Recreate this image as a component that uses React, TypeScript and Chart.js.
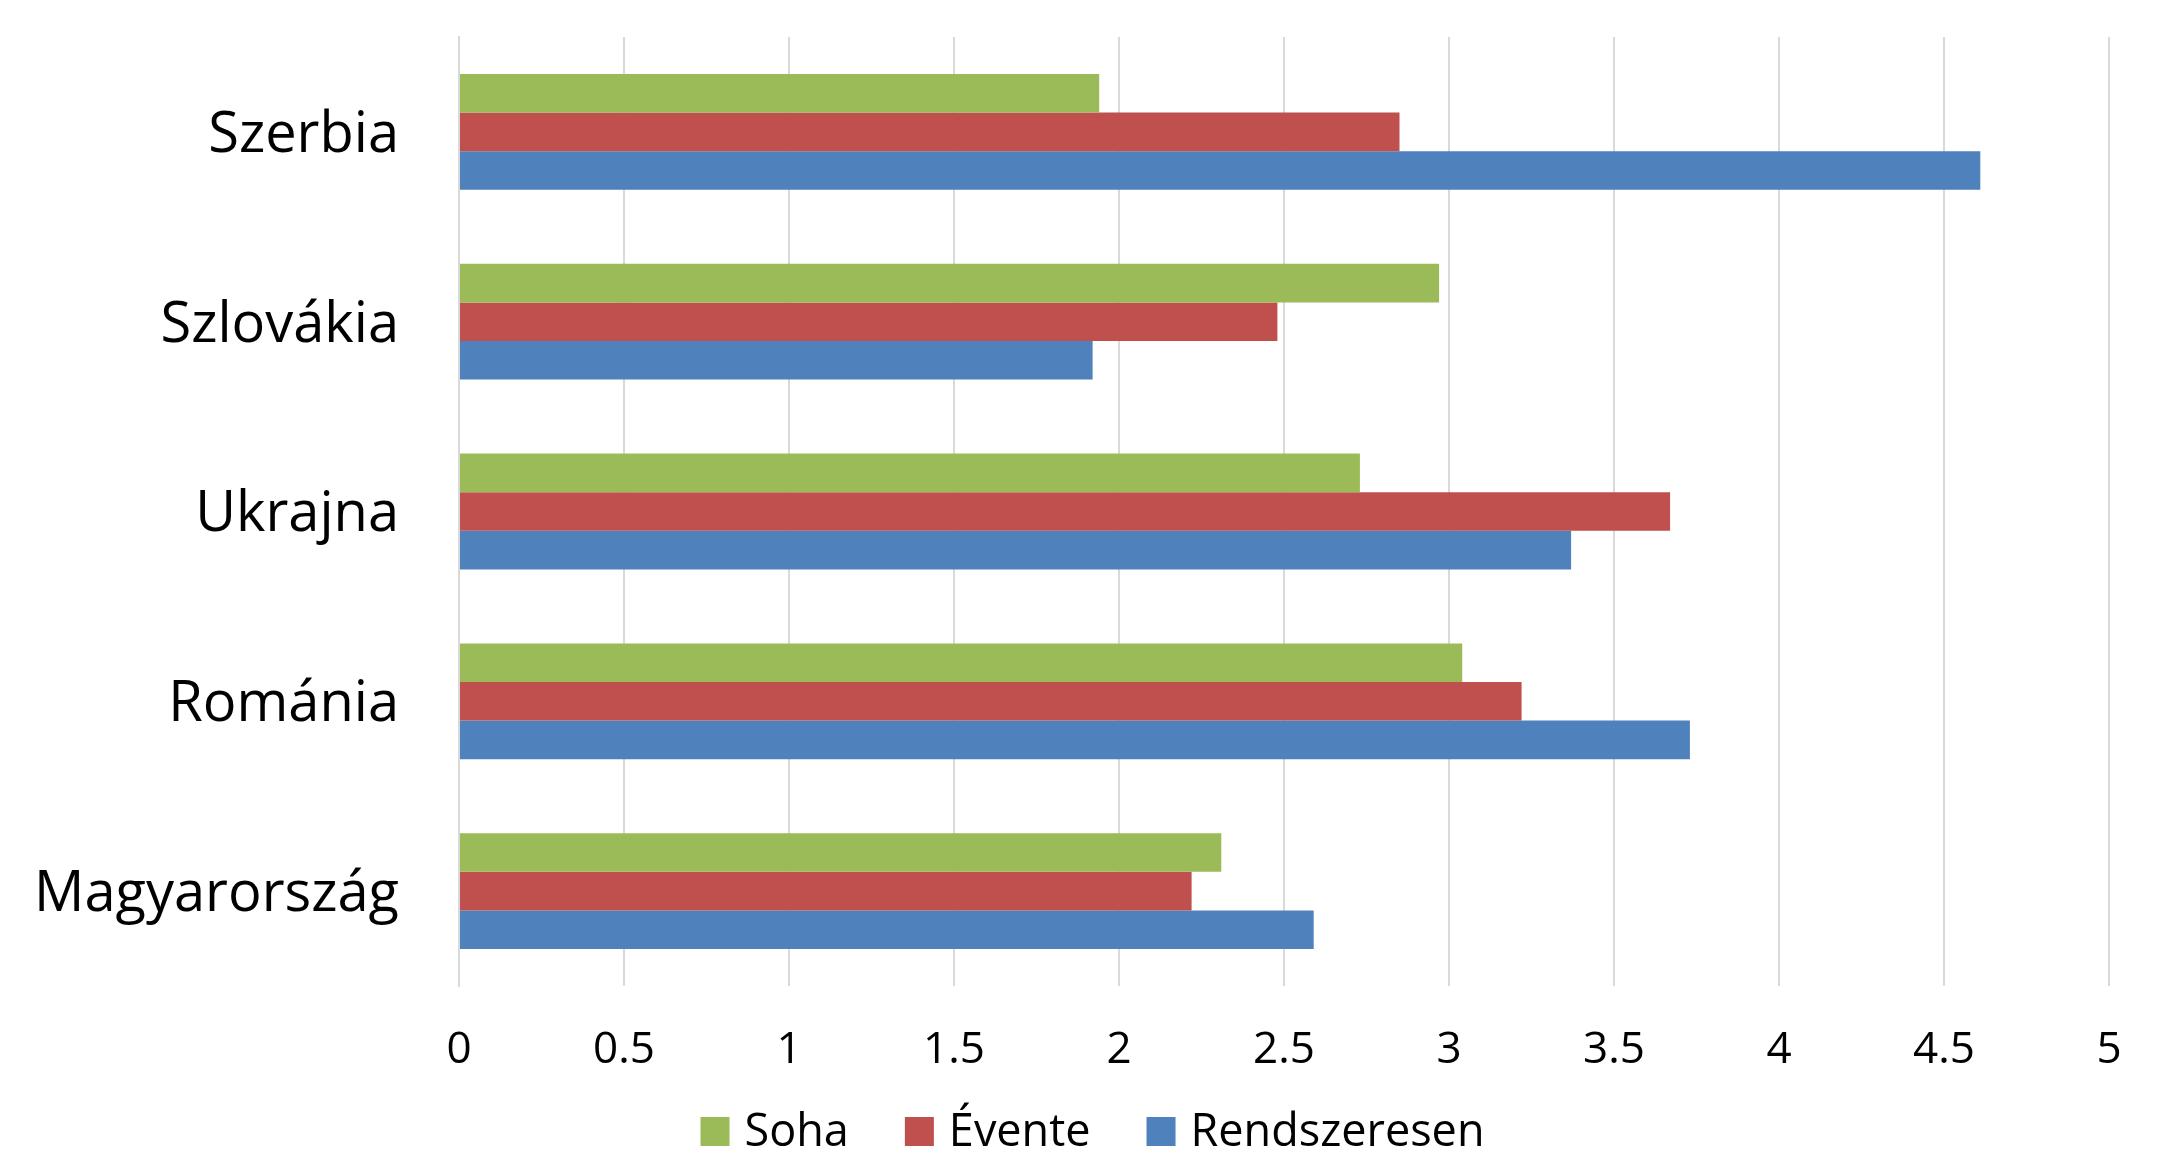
import React, { useEffect, useRef } from "react";
import { Chart, registerables } from "chart.js";

Chart.register(...registerables);

const categories = ["Szerbia", "Szlovákia", "Ukrajna", "Románia", "Magyarország"];
const seriesNames = ["Soha", "Évente", "Rendszeresen"];
const soha = [1.94, 2.97, 2.73, 3.04, 2.31];
const evente = [2.85, 2.48, 3.67, 3.22, 2.22];
const rendszeresen = [4.61, 1.92, 3.37, 3.73, 2.59];
const seriesColors = ["#9BBB59", "#C0504D", "#4F81BD"];
const xTicks = [0, 0.5, 1, 1.5, 2, 2.5, 3, 3.5, 4, 4.5, 5];

const legendFont = "45px 'Open Sans'";

const bottomLegend = {
  id: "bottomLegend",
  afterDraw(chart: any) {
    const ctx = chart.ctx;
    const box = 29;
    const gapText = 15;
    const gapItem = 56;
    const baseline = 1146;
    ctx.save();
    ctx.font = legendFont;
    const items = chart.data.datasets.map((ds: any) => ({
      label: ds.label,
      color: ds.backgroundColor,
      w: ctx.measureText(ds.label).width,
    }));
    const total =
      items.reduce((s: number, it: any) => s + box + gapText + it.w, 0) + gapItem * (items.length - 1);
    let x = chart.width / 2 - total / 2 + 8;
    for (const it of items) {
      ctx.fillStyle = it.color;
      ctx.fillRect(x, baseline - box, box, box);
      x += box + gapText;
      ctx.fillStyle = "#000";
      ctx.textBaseline = "alphabetic";
      ctx.textAlign = "left";
      ctx.fillText(it.label, x, baseline);
      x += it.w + gapItem;
    }
    ctx.restore();
  },
};

export default function App() {
  const ref = useRef<HTMLCanvasElement | null>(null);
  useEffect(() => {
    if (!ref.current) return;
    const values = [soha, evente, rendszeresen];
    const chart = new Chart(ref.current, {
      type: "bar",
      data: {
        labels: categories,
        datasets: seriesNames.map((name, i) => ({
          label: name,
          data: values[i],
          backgroundColor: seriesColors[i],
          borderWidth: 0,
          categoryPercentage: 0.61,
          barPercentage: 1.0,
        })),
      },
      plugins: [bottomLegend],
      options: {
        indexAxis: "y",
        animation: false,
        responsive: true,
        maintainAspectRatio: false,
        layout: { padding: { top: 37, right: 60, left: 0, bottom: 0 } },
        plugins: {
          tooltip: { enabled: false },
          legend: { display: false },
        },
        scales: {
          x: {
            min: 0,
            max: 5,
            afterBuildTicks: (scale: any) => {
              scale.ticks = xTicks.map((v) => ({ value: v }));
            },
            afterFit: (scale: any) => {
              scale.height = 168;
            },
            grid: { color: "#d9d9d9", lineWidth: 2, drawTicks: false },
            border: { display: false },
            ticks: {
              font: { family: "Open Sans", size: 44 },
              color: "#000",
              padding: 38,
              callback: (v: any) => String(v),
            },
          },
          y: {
            afterFit: (scale: any) => {
              scale.width = 459;
              scale.paddingTop = 0;
              scale.paddingBottom = 0;
            },
            grid: { display: false },
            border: { display: true, color: "#d9d9d9", width: 2 },
            ticks: {
              font: { family: "Open Sans", size: 56 },
              color: "#000",
              padding: 52,
              labelOffset: 4,
            },
          },
        },
      },
    });
    return () => chart.destroy();
  }, []);
  return (
    <div style={{ position: "fixed", left: 0, top: 0, width: 2169, height: 1154, background: "#fff" }}>
      <canvas ref={ref} />
    </div>
  );
}
